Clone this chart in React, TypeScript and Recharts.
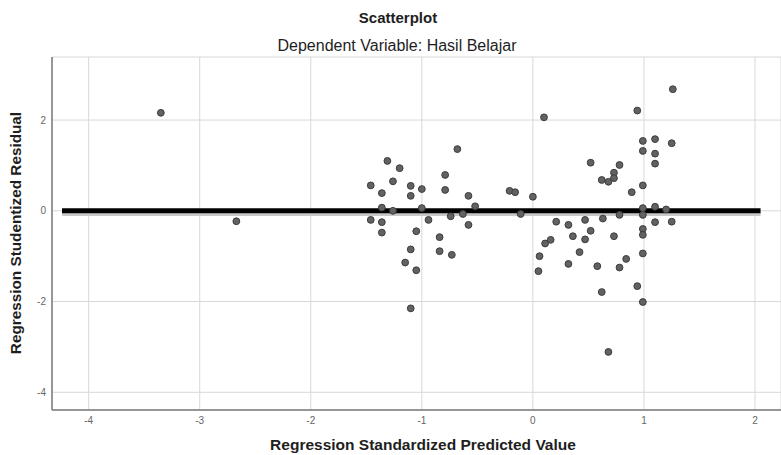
import React from "react";
import {
  ScatterChart,
  Scatter,
  XAxis,
  YAxis,
  CartesianGrid,
  ReferenceLine,
} from "recharts";

// Regression Standardized Predicted Value
const predictedValues: number[] = [
  -3.35, -2.67,
  -0.68, -1.31, -1.2, -1.46, -1.26, -1.1, -1.36, -1.1, -1.0, -0.79, -0.79, -0.58, -0.52,
  -1.36, -1.26, -1.0, -1.46, -1.36, -1.36, -0.94, -0.74, -0.63, -0.58, -1.05, -0.84,
  -1.1, -0.84, -0.73, -1.15, -1.05, -1.1,
  -0.21, -0.16, 0.0, -0.11, 0.21, 0.16, 0.11, 0.06, 0.05, 0.1, 0.32, 0.36, 0.32, 0.42,
  0.47, 0.47, 0.52, 0.52, 0.58,
  1.26, 0.94, 0.99, 1.1, 1.25, 0.99, 1.1, 1.1, 0.78, 0.73, 0.73, 0.62, 0.68, 0.99, 0.89,
  0.99, 1.1, 1.2, 0.99, 0.78, 0.63, 1.1, 1.25, 0.99, 0.99, 0.73, 0.99, 0.84, 0.78, 0.62,
  0.94, 0.99, 0.68,
];

// Regression Studentized Residual
const residuals: number[] = [
  2.16, -0.23,
  1.36, 1.1, 0.94, 0.56, 0.65, 0.55, 0.39, 0.33, 0.48, 0.79, 0.46, 0.33, 0.1,
  0.07, 0.0, 0.06, -0.2, -0.25, -0.48, -0.2, -0.12, -0.07, -0.31, -0.45, -0.58,
  -0.85, -0.89, -0.97, -1.14, -1.31, -2.15,
  0.44, 0.41, 0.31, -0.07, -0.24, -0.64, -0.72, -1.0, -1.33, 2.06, -0.31, -0.56, -1.17, -0.91,
  -0.2, -0.63, -0.44, 1.06, -1.22,
  2.68, 2.21, 1.54, 1.58, 1.49, 1.32, 1.26, 1.04, 1.01, 0.84, 0.72, 0.68, 0.64, 0.56, 0.41,
  0.06, 0.09, 0.03, -0.09, -0.09, -0.17, -0.25, -0.24, -0.4, -0.53, -0.56, -0.94, -1.06, -1.25, -1.79,
  -1.66, -2.01, -3.11,
];

const xTicks: number[] = [-4, -3, -2, -1, 0, 1, 2];
const yTicks: number[] = [-4, -2, 0, 2];
const xDomain: [number, number] = [-4.33, 2.234];
const yDomain: [number, number] = [-4.39, 3.39];

// Horizontal fit line at residual 0 (start and end predicted values)
const fitLineX: [number, number] = [-4.24, 2.05];
const fitLineY = 0;

const points = predictedValues.map((x, i) => ({ x, y: residuals[i] }));

const Dot = (props: any) => {
  const { cx, cy } = props;
  if (cx == null || cy == null) return null;
  return <circle cx={cx} cy={cy} r={3.4} fill="#626262" stroke="#3c3c3c" strokeWidth={1} />;
};

const tickStyle = { fontSize: 10, fill: "#666", fontFamily: "Liberation Sans, Arial, sans-serif" };

export default function App() {
  return (
    <div style={{ position: "absolute", left: 0, top: 0, width: 781, height: 455, background: "#fff", fontFamily: "Liberation Sans, Arial, sans-serif" }}>
      <ScatterChart
        width={781}
        height={455}
        margin={{ top: 57, right: 0, bottom: 15, left: 22 }}
      >
        <CartesianGrid stroke="#d8d8d8" strokeWidth={1} />
        <XAxis
          type="number"
          dataKey="x"
          domain={xDomain}
          ticks={xTicks}
          height={30}
          allowDataOverflow
          axisLine={{ stroke: "#7a7a7a", strokeWidth: 1.5 }}
          tickLine={false}
          tickSize={4}
          tickMargin={3}
          tick={tickStyle}
        />
        <YAxis
          type="number"
          dataKey="y"
          domain={yDomain}
          ticks={yTicks}
          width={30}
          allowDataOverflow
          axisLine={{ stroke: "#7a7a7a", strokeWidth: 1.5 }}
          tickLine={false}
          tickSize={4}
          tickMargin={2}
          tick={tickStyle}
        />
        <ReferenceLine
          segment={[
            { x: fitLineX[0], y: fitLineY - 0.07 },
            { x: fitLineX[1], y: fitLineY - 0.07 },
          ]}
          stroke="#c8c8c8"
          strokeWidth={4}
        />
        <Scatter data={points} shape={Dot} isAnimationActive={false} />
        <ReferenceLine
          segment={[
            { x: fitLineX[0], y: fitLineY },
            { x: fitLineX[1], y: fitLineY },
          ]}
          stroke="#000"
          strokeWidth={5}
        />
      </ScatterChart>
      <div style={{ position: "absolute", left: 0, width: 796, top: 9, textAlign: "center", fontSize: 15, fontWeight: "bold", color: "#1e1e1e" }}>
        Scatterplot
      </div>
      <div style={{ position: "absolute", left: 0, width: 794, top: 37, textAlign: "center", fontSize: 16, color: "#1e1e1e" }}>
        Dependent Variable: Hasil Belajar
      </div>
      <div style={{ position: "absolute", left: 0, width: 846, top: 436, textAlign: "center", fontSize: 15.5, fontWeight: "bold", color: "#1e1e1e" }}>
        Regression Standardized Predicted Value
      </div>
      <div
        style={{
          position: "absolute",
          left: 16,
          top: 233,
          transform: "translate(-50%, -50%) rotate(-90deg)",
          whiteSpace: "nowrap",
          fontSize: 15.3,
          fontWeight: "bold",
          color: "#1e1e1e",
        }}
      >
        Regression Studentized Residual
      </div>
    </div>
  );
}
